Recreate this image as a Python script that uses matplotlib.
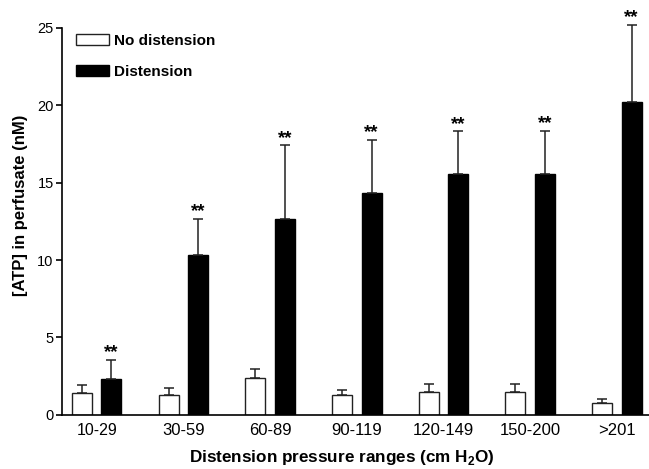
import numpy as np
import matplotlib
matplotlib.use('Agg')
import matplotlib.pyplot as plt
from matplotlib.patches import Patch

plt.rcParams['font.family'] = ['Liberation Sans', 'DejaVu Sans']
plt.rcParams['mathtext.fontset'] = 'custom'
plt.rcParams['mathtext.rm'] = 'Liberation Sans'
plt.rcParams['mathtext.bf'] = 'Liberation Sans:bold'

# data
ranges = ['10-29', '30-59', '60-89', '90-119', '120-149', '150-200', '>201']
no_dist = [1.42, 1.29, 2.39, 1.29, 1.45, 1.47, 0.78]
no_dist_err = [0.48, 0.46, 0.56, 0.33, 0.51, 0.51, 0.25]
dist = [2.31, 10.3, 12.67, 14.35, 15.54, 15.58, 20.21]
dist_err = [1.23, 2.37, 4.74, 3.41, 2.78, 2.78, 5.0]
signif = ['**'] * 7

x = np.arange(len(ranges))
w = 0.23
off = 0.17

fig = plt.figure(figsize=(6.49, 4.69), dpi=100)
ax = fig.add_axes([0.0955, 0.1158, 0.9045, 0.8245])

ekw = dict(ecolor='#222222', elinewidth=1.1, capthick=1.1, clip_on=False)
b1 = ax.bar(x - off, no_dist, w, color='white', edgecolor='#222222', linewidth=1.0,
            yerr=[np.zeros(len(x)), no_dist_err], capsize=3.3, error_kw=ekw)
b2 = ax.bar(x + off, dist, w, color='black', edgecolor='black', linewidth=1.0,
            yerr=[np.zeros(len(x)), dist_err], capsize=3.3, error_kw=ekw)
for c in (b1, b2):
    for art in c.errorbar.lines[1] + c.errorbar.lines[2]:
        art.set_clip_on(False)

# significance stars just above the caps
for xi, v, e, s in zip(x, dist, dist_err, signif):
    ax.annotate(s, (xi + off, v + e), xytext=(0, 1.8), textcoords='offset points',
                ha='center', va='baseline', fontsize=13.5, fontweight='bold',
                annotation_clip=False)

ax.set_xlim(-0.4, 6.37)
ax.set_ylim(0, 25)
ax.set_yticks([0, 5, 10, 15, 20, 25])
ax.set_xticks(x)
ax.set_xticklabels(ranges, fontsize=12)
ax.get_xticklabels()[0].set_fontsize(11.5)
ax.tick_params(axis='x', length=0, pad=6)
ax.tick_params(axis='y', labelsize=10.5, length=4, width=1.2, pad=2)

for sp in ['top', 'right']:
    ax.spines[sp].set_visible(False)
for sp in ['left', 'bottom']:
    ax.spines[sp].set_linewidth(1.2)

ax.set_ylabel('[ATP] in perfusate (nM)', fontsize=12, fontweight='bold')
ax.set_xlabel('Distension pressure ranges (cm H$_\\mathbf{2}$O)', fontsize=12.3,
              fontweight='bold')
ax.xaxis.set_label_coords(0.477, -0.085)
ax.yaxis.set_label_coords(-0.058, 0.542)

handles = [Patch(facecolor='white', edgecolor='#222222', label='No distension'),
           Patch(facecolor='black', edgecolor='black', label='Distension')]
leg = ax.legend(handles=handles, loc='upper left', frameon=False,
                prop=dict(weight='bold', size=11), handlelength=2.2,
                handleheight=0.7, labelspacing=1.1, handletextpad=0.3,
                bbox_to_anchor=(0.0, 1.02))

fig.savefig('out.png', dpi=100)
